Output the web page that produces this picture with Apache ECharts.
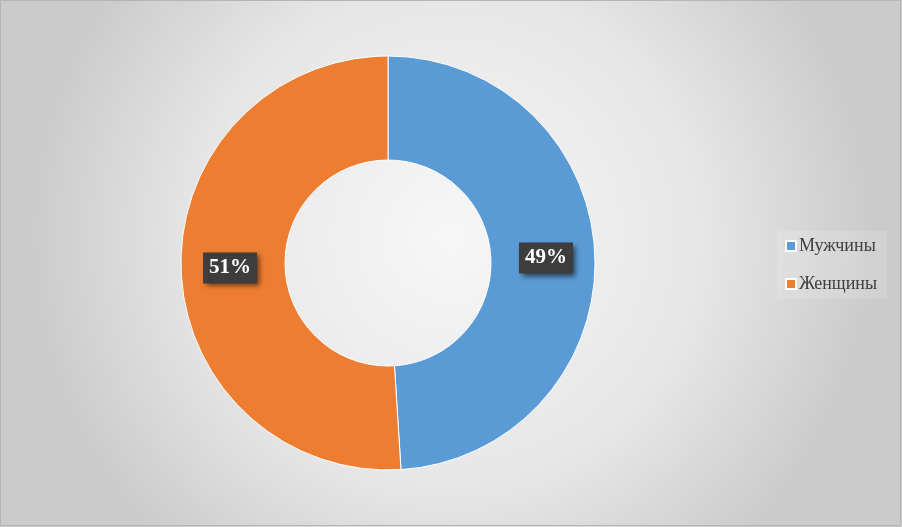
<!DOCTYPE html>
<html><head><meta charset="utf-8">
<script src="https://cdn.jsdelivr.net/npm/echarts@6/dist/echarts.min.js"></script>
<style>html,body{margin:0;padding:0;}#c{width:902px;height:527px;}</style>
</head><body><div id="c"></div>
<script>
const categories = ['Мужчины', 'Женщины'];
const values = [49, 51];
const colors = ['#5b9bd5', '#ed7d31'];

const chart = echarts.init(document.getElementById('c'));
chart.setOption({
  backgroundColor: new echarts.graphic.RadialGradient(0.5, 0.45, 0.8, [
    {offset: 0, color: '#f7f7f7'},
    {offset: 0.6, color: '#e6e6e6'},
    {offset: 1, color: '#cbcbcb'}
  ]),
  animation: false,
  graphic: [{
    type: 'rect', shape: {x: 0.5, y: 0.5, width: 900, height: 525},
    style: {fill: 'none', stroke: '#b5b5b5', lineWidth: 1}, silent: true
  }],
  legend: {
    orient: 'vertical', left: 777, top: 231,
    padding: [6, 10, 6, 8],
    backgroundColor: 'rgba(255,255,255,0.15)',
    icon: 'rect', itemWidth: 10, itemHeight: 10, itemGap: 20,
    textStyle: {fontFamily: 'Liberation Serif', fontSize: 18, color: '#404040', padding: [0, 0, 0, -2]},
    data: categories
  },
  series: [{
    type: 'pie',
    center: [388, 263],
    radius: [103, 207],
    startAngle: 90,
    clockwise: true,
    itemStyle: {borderColor: '#ffffff', borderWidth: 1},
    label: {
      show: true, position: 'inside',
      formatter: p => p.value + '%',
      fontFamily: 'Liberation Serif', fontWeight: 'bold', fontSize: 21, color: '#ffffff',
      backgroundColor: '#3d3d3d', padding: [6, 6, 4, 6],
      shadowColor: 'rgba(0,0,0,0.55)', shadowBlur: 5, shadowOffsetX: 3, shadowOffsetY: 3
    },
    labelLine: {show: false},
    data: categories.map((n, i) => ({name: n, value: values[i], itemStyle: {color: colors[i]}}))
  }]
});
</script></body></html>
